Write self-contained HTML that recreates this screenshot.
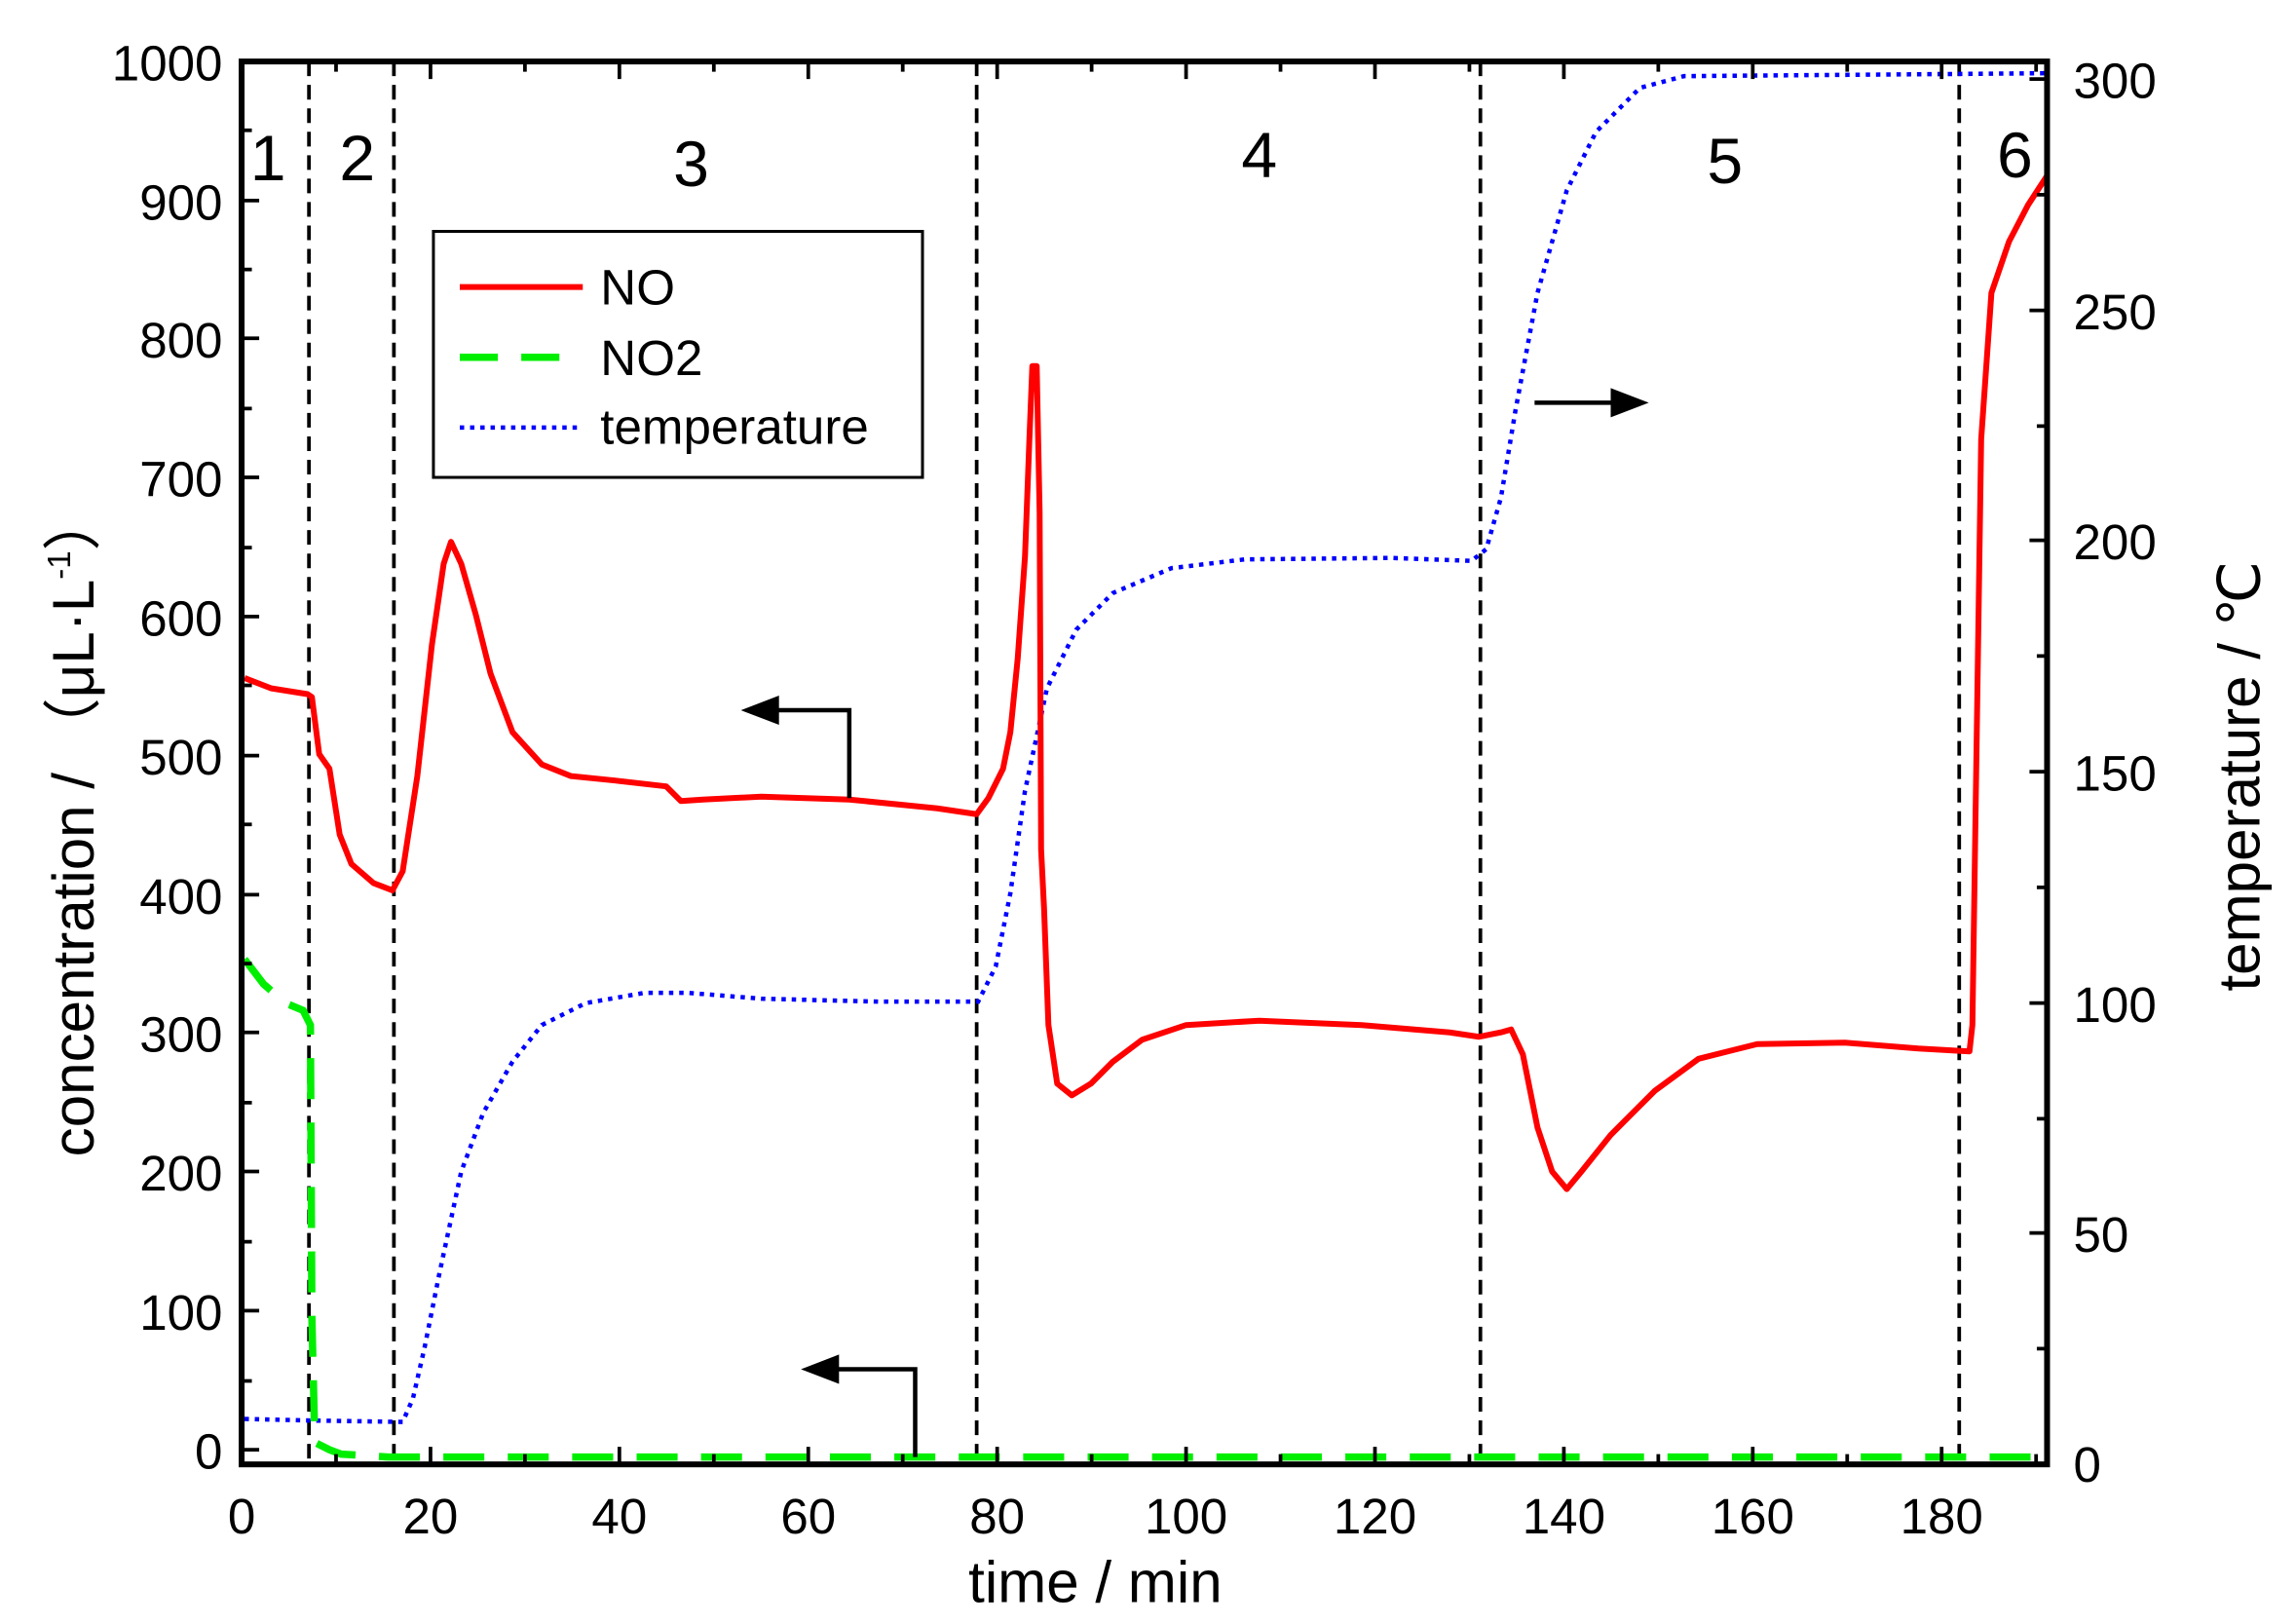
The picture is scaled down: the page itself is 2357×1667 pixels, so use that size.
<!DOCTYPE html>
<html><head><meta charset="utf-8"><style>
html,body{margin:0;padding:0;background:#fff;}
svg{display:block;}
text{font-family:"Liberation Sans",Arial,sans-serif;fill:#000;}
</style></head><body>
<svg width="2357" height="1667" viewBox="0 0 1568 1109" preserveAspectRatio="none" xmlns="http://www.w3.org/2000/svg">
<rect width="1568" height="1109" fill="#fff"/>
<g stroke="#000" stroke-width="2.5" stroke-dasharray="10,6">
<line x1="211" y1="42" x2="211" y2="1000"/>
<line x1="269" y1="42" x2="269" y2="1000"/>
<line x1="667" y1="42" x2="667" y2="1000"/>
<line x1="1011" y1="42" x2="1011" y2="1000"/>
<line x1="1338" y1="42" x2="1338" y2="1000"/>
</g>
<polyline fill="none" stroke="#0000ff" stroke-width="3" stroke-dasharray="3,4" points="167,969 210,970 275,971 282,955 290,920 300,870 315,800 330,760 350,725 370,700 400,685 440,678 470,678 520,682 600,684 668,684 680,660 690,610 700,540 715,470 735,430 760,405 800,388 850,382 950,381 1005,383 1015,375 1025,340 1035,280 1050,200 1070,130 1090,90 1120,60 1150,52 1398,50"/>
<polyline fill="none" stroke="#00ee00" stroke-width="5" stroke-dasharray="28,16" points="167,655 180,672 195,685 207,690 212,700 213,900 215,985 225,990 233,993 265,995 1395,995"/>
<polyline fill="none" stroke="#ff0000" stroke-width="4" stroke-linejoin="round" points="167,463 185,470 210,474 213,476 218,515 225,525 232,570 240,590 255,603 268,608 275,595 285,530 295,440 303,385 308,370 315,385 325,420 335,460 350,500 370,522 390,530 420,533 455,537 465,547 480,546 520,544 580,546 640,552 667,556 675,545 685,525 690,500 695,450 700,380 703,300 705,250 708,250 710,350 711,580 713,620 716,700 722,740 732,748 745,740 760,725 780,710 810,700 860,697 930,700 990,705 1010,708 1025,705 1032,703 1040,720 1050,770 1060,800 1070,812 1080,800 1100,775 1130,745 1160,723 1200,713 1260,712 1310,716 1345,718 1347,700 1350,500 1353,300 1360,200 1372,165 1385,140 1398,120"/>
<g stroke="#000" stroke-width="3" fill="none">
<polyline points="580,545 580,485 525,485"/>
<polyline points="625,995 625,935 568,935"/>
<line x1="1048" y1="275" x2="1105" y2="275"/>
</g>
<polygon points="506,485 532,475 532,495" fill="#000"/>
<polygon points="547,935 573,925 573,945" fill="#000"/>
<polygon points="1126,275 1100,265 1100,285" fill="#000"/>
<rect x="165" y="42" width="1233" height="958" fill="none" stroke="#000" stroke-width="4"/>
<g stroke="#000" stroke-width="2.5">
<path d="M165,1000v-12M294,1000v-12M423,1000v-12M552,1000v-12M681,1000v-12M810,1000v-12M939,1000v-12M1068,1000v-12M1197,1000v-12M1326,1000v-12
M229.5,1000v-7M358.5,1000v-7M487.5,1000v-7M616.5,1000v-7M745.5,1000v-7M874.5,1000v-7M1003.5,1000v-7M1132.5,1000v-7M1261.5,1000v-7M1390.5,1000v-7
M294,42v12M423,42v12M552,42v12M681,42v12M810,42v12M939,42v12M1068,42v12M1197,42v12M1326,42v12
M229.5,42v7M358.5,42v7M487.5,42v7M616.5,42v7M745.5,42v7M874.5,42v7M1003.5,42v7M1132.5,42v7M1261.5,42v7M1390.5,42v7"/>
<path d="M165,990h12M165,895h12M165,800h12M165,705h12M165,611h12M165,516h12M165,421h12M165,326h12M165,231h12M165,137h12
M165,943h7M165,848h7M165,753h7M165,658h7M165,563h7M165,468h7M165,374h7M165,279h7M165,184h7M165,89h7"/>
<path d="M1398,1000h-12M1398,842h-12M1398,685h-12M1398,527h-12M1398,369h-12M1398,212h-12M1398,54h-12
M1398,921h-7M1398,764h-7M1398,606h-7M1398,448h-7M1398,291h-7M1398,133h-7"/>
</g>
<g font-size="34" text-anchor="end">
<text x="152" y="1003">0</text><text x="152" y="908">100</text><text x="152" y="813">200</text><text x="152" y="718">300</text><text x="152" y="624">400</text><text x="152" y="529">500</text><text x="152" y="434">600</text><text x="152" y="339">700</text><text x="152" y="244">800</text><text x="152" y="150">900</text><text x="152" y="55">1000</text>
</g>
<g font-size="34" text-anchor="start">
<text x="1416" y="1012">0</text><text x="1416" y="855">50</text><text x="1416" y="698">100</text><text x="1416" y="540">150</text><text x="1416" y="382">200</text><text x="1416" y="225">250</text><text x="1416" y="67">300</text>
</g>
<g font-size="34" text-anchor="middle">
<text x="165" y="1047">0</text><text x="294" y="1047">20</text><text x="423" y="1047">40</text><text x="552" y="1047">60</text><text x="681" y="1047">80</text><text x="810" y="1047">100</text><text x="939" y="1047">120</text><text x="1068" y="1047">140</text><text x="1197" y="1047">160</text><text x="1326" y="1047">180</text>
</g>
<text x="748" y="1094" font-size="40" text-anchor="middle">time / min</text>
<text transform="translate(64,563) rotate(-90)" font-size="40" text-anchor="middle" style='font-family:"Liberation Sans","Noto Sans CJK SC",sans-serif'>concentration / （μL·L<tspan font-size="22" dy="-16">-1</tspan><tspan dy="16">）</tspan></text>
<text transform="translate(1543,530) rotate(-90)" font-size="40" text-anchor="middle">temperature / ℃</text>
<g font-size="44" text-anchor="middle">
<text x="183" y="123">1</text><text x="244" y="123">2</text><text x="472" y="127">3</text><text x="860" y="121">4</text><text x="1178" y="125">5</text><text x="1376" y="121">6</text>
</g>
<rect x="296" y="158" width="334" height="168" fill="#fff" stroke="#000" stroke-width="2"/>
<line x1="314" y1="196" x2="398" y2="196" stroke="#ff0000" stroke-width="4"/>
<line x1="314" y1="244" x2="398" y2="244" stroke="#00ee00" stroke-width="5" stroke-dasharray="26,16"/>
<line x1="314" y1="292" x2="398" y2="292" stroke="#0000ff" stroke-width="3" stroke-dasharray="3,4"/>
<g font-size="34">
<text x="410" y="208">NO</text><text x="410" y="256">NO2</text><text x="410" y="303">temperature</text>
</g>
</svg>
</body></html>
